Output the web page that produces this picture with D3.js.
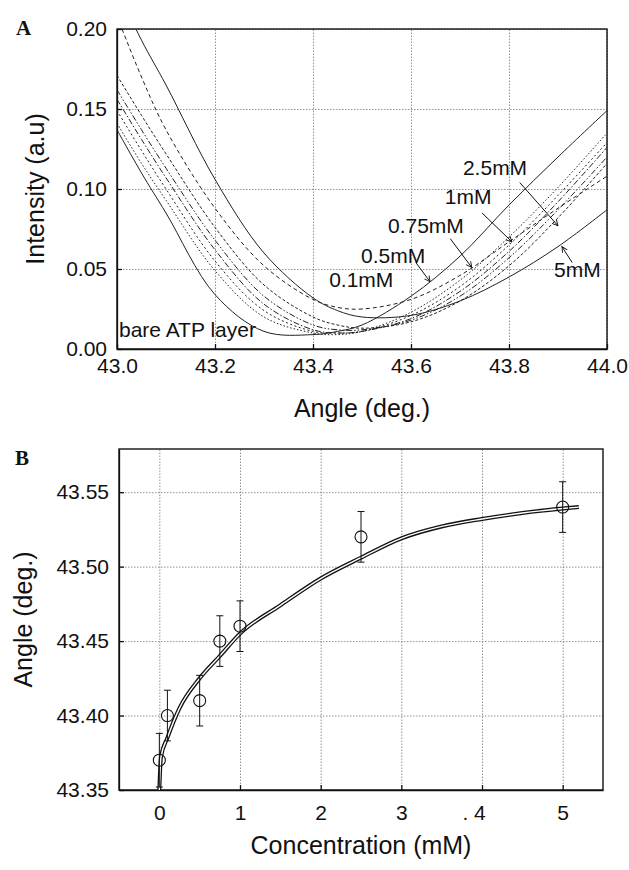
<!DOCTYPE html>
<html lang="en">
<head>
<meta charset="UTF-8">
<title>SPR curves and resonance angle</title>
<script src="https://d3js.org/d3.v7.min.js"></script>
<style>
  body { margin: 0; background: #fff; }
  text { font-family: "Liberation Sans", Arial, sans-serif; fill: #111; }
  .grid line { stroke: #777; stroke-width: 0.8; stroke-dasharray: 1.5,1.5; }
  .grid path { display: none; }
  .axis path, .axis line { stroke: #111; stroke-width: 1.3; }
  .axis text { font-size: 21px; }
  .title { font-size: 25px; }
  .panel { font-family: "Liberation Serif", "Times New Roman", serif; font-weight: bold; font-size: 21px; }
  .note { font-size: 21px; }
</style>
</head>
<body>
<svg id="chart" width="629" height="870"></svg>
<script>
// ---- panel A : reflectivity curves ----
const angles = [43.0, 43.05, 43.1, 43.2, 43.3, 43.4, 43.45, 43.5, 43.6, 43.7, 43.8, 43.9, 44.0];
const bare   = [0.137, 0.110, 0.085, 0.034, 0.011, 0.009, 0.011, 0.015, 0.033, 0.058, 0.090, 0.120, 0.149];
const c01    = [0.141, 0.116, 0.093, 0.049, 0.020, 0.010, 0.009, 0.011, 0.023, 0.043, 0.070, 0.101, 0.135];
const c05    = [0.149, 0.124, 0.100, 0.055, 0.024, 0.011, 0.010, 0.011, 0.021, 0.039, 0.065, 0.096, 0.129];
const c075   = [0.156, 0.131, 0.107, 0.062, 0.028, 0.012, 0.010, 0.011, 0.019, 0.036, 0.061, 0.092, 0.126];
const c1     = [0.162, 0.137, 0.113, 0.068, 0.033, 0.015, 0.012, 0.012, 0.018, 0.033, 0.057, 0.087, 0.120];
const c25    = [0.171, 0.146, 0.122, 0.076, 0.040, 0.020, 0.015, 0.013, 0.017, 0.030, 0.052, 0.082, 0.116];
const cX     = [0.208, 0.170, 0.137, 0.088, 0.052, 0.031, 0.026, 0.025, 0.031, 0.046, 0.067, 0.088, 0.108];
const c5     = [0.225, 0.193, 0.165, 0.106, 0.060, 0.032, 0.024, 0.020, 0.021, 0.030, 0.045, 0.064, 0.087];
const seriesA = [
  { name: "bare", values: bare, dash: null },
  { name: "0.1mM", values: c01, dash: "1.5,2" },
  { name: "0.5mM", values: c05, dash: "2,2.5" },
  { name: "0.75mM", values: c075, dash: "6,2,1.5,2" },
  { name: "1mM", values: c1, dash: "6,2,1.5,2,1.5,2" },
  { name: "2.5mM", values: c25, dash: "3,2" },
  { name: "x", values: cX, dash: "4,3" },
  { name: "5mM", values: c5, dash: null }
];
const xTicksA = [43.0, 43.2, 43.4, 43.6, 43.8, 44.0];
const yTicksA = [0.00, 0.05, 0.10, 0.15, 0.20];

// labels and arrows, in data units of panel A
const notesA = [
  { text: "2.5mM", x: 43.706, y: 0.109 },
  { text: "1mM", x: 43.669, y: 0.0906 },
  { text: "0.75mM", x: 43.553, y: 0.0725 },
  { text: "0.5mM", x: 43.498, y: 0.054 },
  { text: "0.1mM", x: 43.433, y: 0.039 },
  { text: "5mM", x: 43.892, y: 0.045 },
  { text: "bare ATP layer", x: 43.004, y: 0.0075 }
];
const arrowsA = [
  [43.822, 0.104, 43.900, 0.077],
  [43.745, 0.085, 43.806, 0.067],
  [43.680, 0.069, 43.724, 0.051],
  [43.610, 0.054, 43.639, 0.042],
  [43.929, 0.054, 43.908, 0.064]
];

// ---- panel B : resonance angle vs concentration ----
const conc     = [0, 0.1, 0.5, 0.75, 1, 2.5, 5];
const resAngle = [43.37, 43.40, 43.41, 43.45, 43.46, 43.52, 43.54];
const resErr   = [0.018, 0.017, 0.017, 0.017, 0.017, 0.017, 0.017];
const fitConc  = [0, 0.02, 0.1, 0.25, 0.5, 0.75, 1, 1.5, 2, 2.5, 3, 3.5, 4, 4.5, 5, 5.2];
const fitAngle = [43.35, 43.372, 43.385, 43.405, 43.425, 43.44, 43.455, 43.474, 43.492, 43.506, 43.519, 43.527, 43.532, 43.536, 43.539, 43.54];
const xTicksB = [0, 1, 2, 3, 4, 5];
const xTickLabelsB = ["0", "1", "2", "3", ". 4", "5"];
const yTicksB = [43.35, 43.40, 43.45, 43.50, 43.55];

const svg = d3.select("#chart");

svg.append("defs").append("marker")
  .attr("id", "head")
  .attr("viewBox", "0 0 10 10")
  .attr("refX", 9).attr("refY", 5)
  .attr("markerWidth", 7).attr("markerHeight", 7)
  .attr("orient", "auto")
  .append("path")
  .attr("d", "M1,1 L9,5 L1,9")
  .attr("fill", "none").attr("stroke", "#111").attr("stroke-width", 1.3);

function frame(g, x, y, w, h, xt, yt, xfmt, yfmt, xpad) {
  g.append("g").attr("class", "grid")
    .attr("transform", `translate(0,${h})`)
    .call(d3.axisBottom(x).tickValues(xt).tickSize(-h).tickFormat(""));
  g.append("g").attr("class", "grid")
    .call(d3.axisLeft(y).tickValues(yt).tickSize(-w).tickFormat(""));
  g.append("g").attr("class", "axis")
    .attr("transform", `translate(0,${h})`)
    .call(d3.axisBottom(x).tickValues(xt).tickSizeInner(-5).tickSizeOuter(0).tickPadding(xpad).tickFormat(xfmt));
  g.append("g").attr("class", "axis")
    .call(d3.axisLeft(y).tickValues(yt).tickSizeInner(-5).tickSizeOuter(0).tickPadding(10).tickFormat(yfmt));
  g.append("rect").attr("width", w).attr("height", h)
    .attr("fill", "none").attr("stroke", "#111").attr("stroke-width", 1.4);
}

// panel A
const wA = 490, hA = 320;
const gA = svg.append("g").attr("transform", "translate(117,29)");
const xA = d3.scaleLinear().domain([43.0, 44.0]).range([0, wA]);
const yA = d3.scaleLinear().domain([0, 0.2]).range([hA, 0]);

gA.append("clipPath").attr("id", "clipA")
  .append("rect").attr("width", wA).attr("height", hA);

frame(gA, xA, yA, wA, hA, xTicksA, yTicksA, d3.format(".1f"), d3.format(".2f"), 9);

const lineA = d3.line()
  .x((d, i) => xA(angles[i]))
  .y(d => yA(d))
  .curve(d3.curveCatmullRom);

gA.append("g").attr("clip-path", "url(#clipA)")
  .selectAll("path")
  .data(seriesA)
  .join("path")
  .attr("d", d => lineA(d.values))
  .attr("fill", "none")
  .attr("stroke", "#222")
  .attr("stroke-width", 1)
  .attr("stroke-dasharray", d => d.dash);

gA.selectAll(".note")
  .data(notesA)
  .join("text")
  .attr("class", "note")
  .attr("x", d => xA(d.x))
  .attr("y", d => yA(d.y))
  .text(d => d.text);

gA.selectAll(".arrow")
  .data(arrowsA)
  .join("line")
  .attr("class", "arrow")
  .attr("x1", d => xA(d[0])).attr("y1", d => yA(d[1]))
  .attr("x2", d => xA(d[2])).attr("y2", d => yA(d[3]))
  .attr("stroke", "#111").attr("stroke-width", 1)
  .attr("marker-end", "url(#head)");

gA.append("text").attr("class", "title")
  .attr("x", wA / 2).attr("y", hA + 68)
  .attr("text-anchor", "middle")
  .text("Angle  (deg.)");

gA.append("text").attr("class", "title")
  .attr("transform", `translate(-73,${hA / 2}) rotate(-90)`)
  .attr("text-anchor", "middle")
  .text("Intensity (a.u)");

svg.append("text").attr("class", "panel").attr("x", 16).attr("y", 35).text("A");

// panel B
const wB = 484, hB = 341;
const gB = svg.append("g").attr("transform", "translate(119,449)");
const xB = d3.scaleLinear().domain([-0.5, 5.5]).range([0, wB]);
const yB = d3.scaleLinear().domain([43.35, 43.579]).range([hB, 0]);

frame(gB, xB, yB, wB, hB, xTicksB, yTicksB, (d, i) => xTickLabelsB[i], d3.format(".2f"), 15);
gB.selectAll(".axis text").filter(d => d === 4).attr("dx", "-0.4em");

const lineB = d3.line()
  .x((d, i) => xB(fitConc[i]))
  .y(d => yB(d))
  .curve(d3.curveMonotoneX);

gB.append("path").attr("d", lineB(fitAngle))
  .attr("fill", "none").attr("stroke", "#111").attr("stroke-width", 4);
gB.append("path").attr("d", lineB(fitAngle))
  .attr("fill", "none").attr("stroke", "#fff").attr("stroke-width", 1.4);

const pts = gB.append("g").selectAll("g")
  .data(conc)
  .join("g");

pts.append("line")
  .attr("x1", d => xB(d)).attr("x2", d => xB(d))
  .attr("y1", (d, i) => yB(resAngle[i] - resErr[i]))
  .attr("y2", (d, i) => yB(resAngle[i] + resErr[i]))
  .attr("stroke", "#111").attr("stroke-width", 1);
pts.append("line")
  .attr("x1", d => xB(d) - 3.5).attr("x2", d => xB(d) + 3.5)
  .attr("y1", (d, i) => yB(resAngle[i] + resErr[i]))
  .attr("y2", (d, i) => yB(resAngle[i] + resErr[i]))
  .attr("stroke", "#111").attr("stroke-width", 1);
pts.append("line")
  .attr("x1", d => xB(d) - 3.5).attr("x2", d => xB(d) + 3.5)
  .attr("y1", (d, i) => yB(resAngle[i] - resErr[i]))
  .attr("y2", (d, i) => yB(resAngle[i] - resErr[i]))
  .attr("stroke", "#111").attr("stroke-width", 1);
pts.append("circle")
  .attr("cx", d => xB(d))
  .attr("cy", (d, i) => yB(resAngle[i]))
  .attr("r", 6)
  .attr("fill", "none").attr("stroke", "#111").attr("stroke-width", 1.1);

gB.append("text").attr("class", "title")
  .attr("x", wB / 2).attr("y", hB + 64)
  .attr("text-anchor", "middle")
  .text("Concentration  (mM)");

gB.append("text").attr("class", "title")
  .attr("transform", `translate(-87,${hB / 2}) rotate(-90)`)
  .attr("text-anchor", "middle")
  .text("Angle (deg.)");

svg.append("text").attr("class", "panel").attr("x", 15).attr("y", 465).text("B");
</script>
</body>
</html>
